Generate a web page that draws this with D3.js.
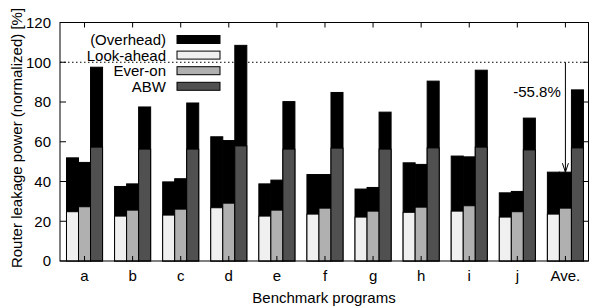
<!DOCTYPE html>
<html>
<head>
<meta charset="utf-8">
<script src="https://cdn.jsdelivr.net/npm/d3@7"></script>
<style>
  body { margin: 0; background: #fff; }
  text { font-family: "Liberation Sans", Arial, sans-serif; font-size: 15px; fill: #000; }
</style>
</head>
<body>
<div id="chart"></div>
<script>
var categories = ["a", "b", "c", "d", "e", "f", "g", "h", "i", "j", "Ave."];
var seriesNames = ["Look-ahead", "Ever-on", "ABW"];
// power without overhead
var lookBase  = [24.8, 22.6, 23.1, 26.8, 22.6, 23.6, 22.1, 24.5, 25.1, 22.1, 23.6];
var everBase  = [27.3, 25.6, 26.1, 29.1, 25.6, 26.6, 25.1, 27.1, 27.8, 24.8, 26.6];
var abwBase   = [57.3, 56.3, 56.3, 57.9, 56.3, 56.8, 56.3, 56.9, 57.3, 55.9, 56.9];
// power including overhead
var lookTotal = [51.9, 37.5, 39.8, 62.5, 38.8, 43.5, 36.2, 49.4, 52.8, 34.3, 44.7];
var everTotal = [49.6, 38.8, 41.4, 60.6, 40.7, 43.5, 37.0, 48.6, 52.4, 35.0, 44.7];
var abwTotal  = [97.5, 77.5, 79.5, 108.5, 80.2, 84.8, 74.9, 90.5, 96.0, 71.9, 86.1];
var yTicks = [0, 20, 40, 60, 80, 100, 120];

var baseValues = [lookBase, everBase, abwBase];
var totalValues = [lookTotal, everTotal, abwTotal];
var colors = ["#f0f0f0", "#b0b0b0", "#505050"];

var width = 589, height = 307;
var pLeft = 60, pRight = 588.5, pTop = 22.5, pBottom = 261;

var svg = d3.select("#chart").append("svg")
    .attr("width", width)
    .attr("height", height);

var x = d3.scaleLinear().domain([-0.51, 10.48]).range([pLeft, pRight]);
var y = d3.scaleLinear().domain([0, 120]).range([pBottom, pTop]);
var step = x(1) - x(0);
var bw = step / 4;

// bars
var bars = [];
categories.forEach(function(c, i) {
  for (var k = 0; k < 3; k++) {
    bars.push({i: i, k: k, base: baseValues[k][i], total: totalValues[k][i]});
  }
});

var g = svg.append("g");
// overhead part (whole bar height, black)
g.selectAll(".over").data(bars).enter().append("rect")
    .attr("x", function(d) { return x(d.i) + (d.k - 1.5) * bw; })
    .attr("width", bw)
    .attr("y", function(d) { return y(d.total); })
    .attr("height", function(d) { return y(0) - y(d.total); })
    .attr("fill", "#000")
    .attr("stroke", "#000")
    .attr("stroke-width", 1);
g.selectAll(".base").data(bars).enter().append("rect")
    .attr("x", function(d) { return x(d.i) + (d.k - 1.5) * bw; })
    .attr("width", bw)
    .attr("y", function(d) { return y(d.base); })
    .attr("height", function(d) { return y(0) - y(d.base); })
    .attr("fill", function(d) { return colors[d.k]; })
    .attr("stroke", "#000")
    .attr("stroke-width", 1);

// 100% reference line
svg.append("line")
    .attr("x1", pLeft).attr("x2", pRight)
    .attr("y1", y(100)).attr("y2", y(100))
    .attr("stroke", "#000")
    .attr("stroke-dasharray", "1.5,2.5");

// frame
svg.append("rect")
    .attr("x", pLeft).attr("y", pTop)
    .attr("width", pRight - pLeft).attr("height", pBottom - pTop)
    .attr("fill", "none").attr("stroke", "#000");

// y ticks
yTicks.forEach(function(t) {
  svg.append("line").attr("x1", pLeft).attr("x2", pLeft + 6)
      .attr("y1", y(t)).attr("y2", y(t)).attr("stroke", "#000");
  svg.append("line").attr("x1", pRight).attr("x2", pRight - 6)
      .attr("y1", y(t)).attr("y2", y(t)).attr("stroke", "#000");
  svg.append("text").attr("x", 51).attr("y", y(t))
      .attr("dy", "0.36em").attr("text-anchor", "end").text(t);
});

// x ticks and labels
categories.forEach(function(c, i) {
  svg.append("line").attr("x1", x(i)).attr("x2", x(i))
      .attr("y1", pBottom).attr("y2", pBottom - 5).attr("stroke", "#000");
  svg.append("line").attr("x1", x(i)).attr("x2", x(i))
      .attr("y1", pTop).attr("y2", pTop + 5).attr("stroke", "#000");
  svg.append("text").attr("x", x(i)).attr("y", 281)
      .attr("text-anchor", "middle").text(c);
});

// axis titles
svg.append("text").attr("x", 324).attr("y", 303)
    .attr("text-anchor", "middle").text("Benchmark programs");
svg.append("text")
    .attr("transform", "translate(22,138) rotate(-90)")
    .attr("text-anchor", "middle")
    .text("Router leakage power (normalized) [%]");

// legend
var legendNames = ["(Overhead)"].concat(seriesNames);
var legendColors = ["#000"].concat(colors);
legendNames.forEach(function(n, j) {
  var cy = 39.5 + j * 15.6;
  svg.append("text").attr("x", 166).attr("y", cy)
      .attr("dy", "0.36em").attr("text-anchor", "end").text(n);
  svg.append("rect").attr("x", 177).attr("y", cy - 4)
      .attr("width", 43).attr("height", 8)
      .attr("fill", legendColors[j]).attr("stroke", "#000");
});

// annotation arrow
var ax = x(10);
var ayEnd = y(everTotal[10]);
svg.append("line").attr("x1", ax).attr("x2", ax)
    .attr("y1", y(100)).attr("y2", ayEnd)
    .attr("stroke", "#000");
svg.append("path")
    .attr("d", "M" + (ax - 3) + "," + (ayEnd - 9) + "L" + ax + "," + ayEnd + "L" + (ax + 3) + "," + (ayEnd - 9))
    .attr("fill", "none").attr("stroke", "#000");
svg.append("text").attr("x", 537).attr("y", 97)
    .attr("text-anchor", "middle").text("-55.8%");
</script>
</body>
</html>
